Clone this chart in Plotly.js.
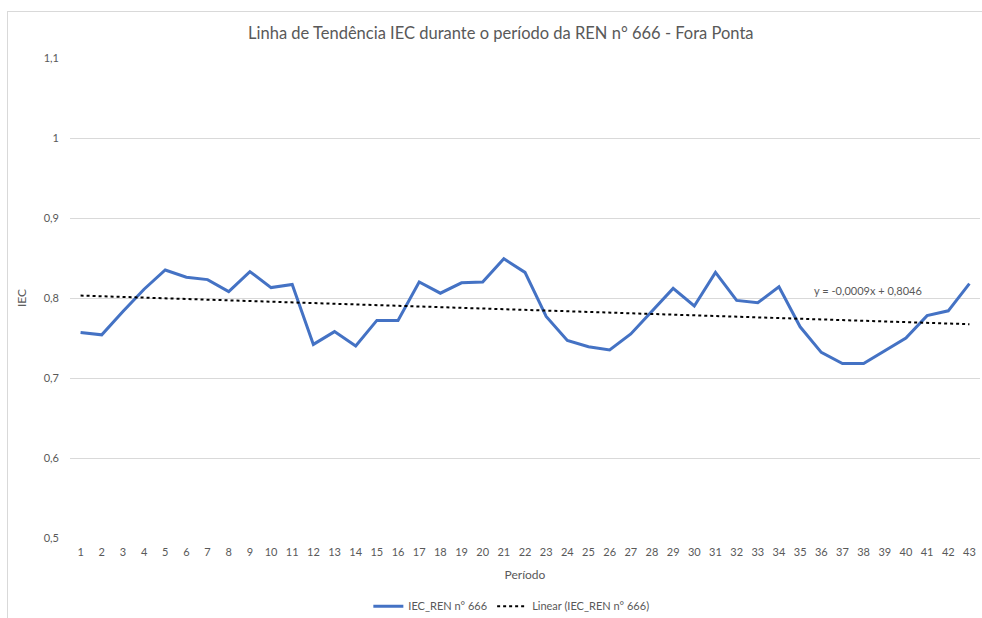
<!DOCTYPE html>
<html>
<head>
<meta charset="utf-8">
<script src="https://cdn.plot.ly/plotly-3.0.1.min.js"></script>
<style>
html,body{margin:0;padding:0;background:#fff;overflow:hidden;}
#wrap{position:relative;width:982px;height:618px;overflow:hidden;}
#frame{position:absolute;left:7px;top:11px;width:990px;height:620px;border-left:1px solid #d9d9d9;border-top:1px solid #d9d9d9;pointer-events:none;}
#chart{position:absolute;left:0;top:0;width:982px;height:650px;}
</style>
</head>
<body>
<div id="wrap"><div id="chart"></div><div id="frame"></div></div>
<script>
// Data
const periods = [1,2,3,4,5,6,7,8,9,10,11,12,13,14,15,16,17,18,19,20,21,22,23,24,25,26,27,28,29,30,31,32,33,34,35,36,37,38,39,40,41,42,43];
const iecValues = [0.757,0.754,0.783,0.811,0.835,0.826,0.823,0.808,0.833,0.813,0.817,0.742,0.758,0.740,0.772,0.772,0.820,0.806,0.819,0.820,0.849,0.832,0.777,0.747,0.739,0.735,0.755,0.783,0.812,0.790,0.832,0.797,0.794,0.814,0.764,0.732,0.718,0.718,0.734,0.750,0.778,0.784,0.818];
const seriesName = "IEC_REN n° 666";
const trendName = "Linear (IEC_REN n° 666)";
const trendLabel = "y = -0,0009x + 0,8046";
const yTicks = [0.5,0.6,0.7,0.8,0.9,1.0,1.1];
const yTickText = ["0,5","0,6","0,7","0,8","0,9","1","1,1"];

// Linear least-squares trend from the data (as Excel's trendline does)
const n = periods.length;
const mx = periods.reduce((a,b)=>a+b,0)/n;
const my = iecValues.reduce((a,b)=>a+b,0)/n;
let sxy=0, sxx=0;
for(let i=0;i<n;i++){sxy+=(periods[i]-mx)*(iecValues[i]-my);sxx+=(periods[i]-mx)*(periods[i]-mx);}
const slope = sxy/sxx, intercept = my - slope*mx;
const trendValues = periods.map(p=>intercept+slope*p);

const font = "Lato, 'Open Sans', sans-serif";
const grey = "#595959";

const data = [
  {x:periods, y:iecValues, type:"scatter", mode:"lines", name:seriesName,
   line:{color:"#4472C4", width:3}},
  {x:periods, y:trendValues, type:"scatter", mode:"lines", name:trendName,
   line:{color:"#000000", width:2, dash:"dot"}}
];

const layout = {
  width:982, height:650,
  paper_bgcolor:"rgba(0,0,0,0)", plot_bgcolor:"#ffffff",
  margin:{l:70, r:2, t:58, b:112},
  font:{family:font, color:grey, size:11},
  title:{text:"Linha de Tendência IEC durante o período da REN n° 666 - Fora Ponta",
         font:{family:font, size:16.5, color:grey}, x:0.51, xanchor:"center", y:33/650, yanchor:"middle", yref:"container"},
  xaxis:{range:[0.5,43.5], tickmode:"array", tickvals:periods, ticktext:periods.map(String),
         showgrid:false, zeroline:false, showline:false, ticks:"", ticklabelstandoff:6,
         tickfont:{size:11, color:grey},
         title:{text:"Período", font:{size:12, color:grey}, standoff:13}},
  yaxis:{range:[0.5,1.1], tickmode:"array", tickvals:yTicks, ticktext:yTickText,
         showgrid:true, gridcolor:"#d9d9d9", gridwidth:1, zeroline:false, showline:false, ticks:"",
         ticklabelstandoff:10, tickfont:{size:11, color:grey},
         title:{text:"IEC", font:{size:12, color:grey}, standoff:14}},
  showlegend:true,
  legend:{orientation:"h", x:0.485, xanchor:"center", y:-0.142, yanchor:"middle",
          font:{size:11, color:grey}, bgcolor:"rgba(0,0,0,0)"},
  annotations:[{x:38.2, y:0.809, xref:"x", yref:"y", text:trendLabel, showarrow:false,
                font:{size:11, color:grey}, xanchor:"center", yanchor:"middle"}]
};
layout.title.y = 1 - 33/650;

Plotly.newPlot("chart", data, layout, {displayModeBar:false, staticPlot:true});
</script>
</body>
</html>
